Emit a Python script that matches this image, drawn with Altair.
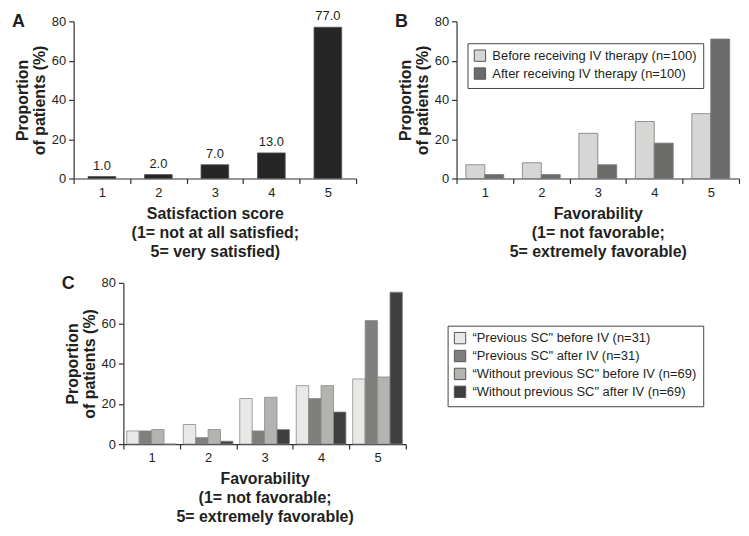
import altair as alt
import pandas as pd

# ---- data ----
scores = [1, 2, 3, 4, 5]
sat_pct = [1.0, 2.0, 7.0, 13.0, 77.0]

b_series = ["Before receiving IV therapy (n=100)", "After receiving IV therapy (n=100)"]
fav_before = [7, 8, 23, 29, 33]
fav_after = [2, 2, 7, 18, 71]

c_series = [
    "\u201cPrevious SC\" before IV (n=31)",
    "\u201cPrevious SC\" after IV (n=31)",
    "\u201cWithout previous SC\" before IV (n=69)",
    "\u201cWithout previous SC\" after IV (n=69)",
]
prev_before = [6.5, 9.7, 22.6, 29.0, 32.3]
prev_after = [6.5, 3.2, 6.5, 22.6, 61.3]
wo_before = [7.2, 7.2, 23.2, 29.0, 33.3]
wo_after = [0.0, 1.4, 7.2, 15.9, 75.4]

y_ticks = [0, 20, 40, 60, 80]
y_title = ["Proportion", "of patients (%)"]
a_xtitle = ["Satisfaction score", "(1= not at all satisfied;", "5= very satisfied)"]
f_xtitle = ["Favorability", "(1= not favorable;", "5= extremely favorable)"]

# ---- tables ----
df_a = pd.DataFrame({"score": [str(s) for s in scores], "pct": sat_pct})


def long_table(series, columns):
    rows = []
    for i, (name, vals) in enumerate(zip(series, columns)):
        for s, v in zip(scores, vals):
            rows.append({"score": s, "series": name, "idx": i, "pct": v})
    return pd.DataFrame(rows)


df_b = long_table(b_series, [fav_before, fav_after])
df_c = long_table(c_series, [prev_before, prev_after, wo_before, wo_after])

TXT = "#231f20"
AX = "#333333"
W = 284
H = 158
HC = 162

# boundaries between score groups (tick marks) and group centres (labels)
x_marks = [s - 0.5 for s in scores] + [scores[-1] + 0.5]
x_vals = sorted(x_marks + scores)


def axis_common():
    return dict(
        tickSize=5, domainColor=AX, tickColor=AX, domainWidth=1.2, tickWidth=1.2,
        labelFontSize=13, labelColor=TXT, labelPadding=3,
        titleFontSize=16, titleFontWeight="bold", titleColor=TXT,
    )


def x_band_axis(title):
    return alt.Axis(title=title, labelAngle=0, tickBand="extent",
                    titleLineHeight=19, titlePadding=6, **axis_common())


def x_lin_axis(title):
    return alt.Axis(
        title=title, labelAngle=0, values=x_vals, grid=False,
        labelExpr="datum.value % 1 === 0 ? format(datum.value, 'd') : ''",
        tickOpacity={"condition": {"test": "datum.value % 1 === 0", "value": 0}, "value": 1},
        labelOverlap=False, labelFlush=False,
        titleLineHeight=19, titlePadding=6, **axis_common())


def y_axis():
    return alt.Axis(title=y_title, values=y_ticks, grid=False,
                    titleLineHeight=17, titlePadding=4, **axis_common())


y_scale = alt.Scale(domain=[0, 80], nice=False)


def letter(ch):
    return alt.Chart(alt.Data(values=[{"t": ch}])).mark_text(
        fontSize=18, fontWeight="bold", color=TXT, align="left", baseline="top",
    ).encode(text="t:N", x=alt.value(-62), y=alt.value(-8))


def legend(lx, ly):
    return alt.Legend(
        title=None, orient="none", legendX=lx, legendY=ly,
        strokeColor="#444444", fillColor="white", padding=6,
        symbolType="square", symbolSize=130, symbolStrokeColor="#555555",
        symbolStrokeWidth=1, labelFontSize=13, labelColor=TXT,
        labelLimit=400, rowPadding=1, labelOffset=6,
    )


def grouped(df, series, colors, frac, lx, ly, stroke):
    bw = frac / len(series)          # bar width in score units
    gap = (1 - frac) / 2
    return alt.Chart(df).transform_calculate(
        x0=f"datum.score - 0.5 + {gap} + datum.idx * {bw}",
        x1=f"datum.score - 0.5 + {gap} + (datum.idx + 1) * {bw}",
    ).mark_bar(stroke=stroke, strokeWidth=0.8).encode(
        x=alt.X("x0:Q", scale=alt.Scale(domain=[x_marks[0], x_marks[-1]], nice=False,
                                        zero=False),
                axis=x_lin_axis(f_xtitle)),
        x2="x1:Q",
        y=alt.Y("pct:Q", scale=y_scale, axis=y_axis()),
        y2=alt.datum(0),
        color=alt.Color("series:N", sort=series,
                        scale=alt.Scale(domain=series, range=colors),
                        legend=legend(lx, ly)),
    )


# ---- panel A ----
a_base = alt.Chart(df_a).encode(
    x=alt.X("score:N", scale=alt.Scale(paddingInner=0, paddingOuter=0),
            axis=x_band_axis(a_xtitle)),
    y=alt.Y("pct:Q", scale=y_scale, axis=y_axis()),
)
a_bars = a_base.mark_bar(width=alt.RelativeBandSize(0.49), color="#262626",
                         stroke="#555555", strokeWidth=0.8)
a_text = a_base.mark_text(dy=-4, baseline="bottom", fontSize=13, color=TXT).encode(
    text=alt.Text("pct:Q", format=".1f"))
chart_a = alt.layer(a_bars, a_text, letter("A")).properties(width=W, height=H)

# ---- panel B ----
b_bars = grouped(df_b, b_series, ["#d6d6d4", "#6b6b69"], 0.67, 11, 22, "#7a7a7a")
chart_b = alt.layer(b_bars, letter("B")).properties(width=W, height=H)

# ---- panel C ----
c_bars = grouped(df_c, c_series, ["#e8e8e6", "#7f7f7d", "#b5b3b0", "#3f3f3f"],
                 0.88, 326, 43, "#8a8a8a")
chart_c = alt.layer(c_bars, letter("C")).properties(width=W, height=HC)


def spacer(w):
    return alt.Chart(alt.Data(values=[{"v": 0}])).mark_point(opacity=0, size=1).encode(
        x=alt.value(0.5), y=alt.value(0.5)).properties(width=w, height=4)


pair = alt.hconcat(chart_a, chart_b, spacing=36).resolve_scale(color="independent")
top = alt.hconcat(spacer(1), pair, spacing=0).resolve_scale(color="independent")
bottom = alt.hconcat(spacer(51), chart_c, spacing=0).resolve_scale(color="independent")

chart = alt.vconcat(top, bottom, spacing=14).resolve_scale(color="independent").properties(
    padding=0
).configure(font="Liberation Sans").configure_view(stroke="transparent")

chart.save("out.html", embed_options={"renderer": "svg", "actions": False})
